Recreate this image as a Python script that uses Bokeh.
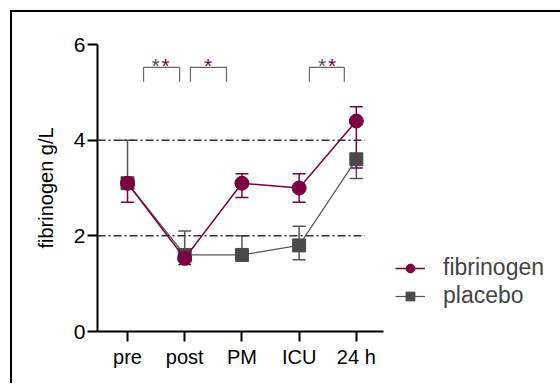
from bokeh.plotting import figure
from bokeh.models import FixedTicker, Whisker, ColumnDataSource, Legend, LegendItem, TeeHead
from bokeh.embed import file_html
from bokeh.resources import INLINE
from bokeh.core.properties import value

# ---- data ----
categories = ["pre", "post", "PM", "ICU", "24 h"]
fib_mean = [3.1, 1.53, 3.1, 3.0, 4.4]
fib_lower = [2.7, 1.4, 2.8, 2.7, 3.42]
fib_upper = [3.1, 1.53, 3.3, 3.3, 4.7]
pla_mean = [3.1, 1.6, 1.6, 1.8, 3.6]
pla_lower = [3.1, 1.6, 1.6, 1.5, 3.2]
pla_upper = [4.0, 2.1, 2.0, 2.2, 3.6]
ref_levels = [2, 4]
# significance annotations (category index units)
sig_left = [1.28, 2.10, 4.18]
sig_right = [1.91, 2.73, 4.79]
sig_center = [1.58, 2.41, 4.49]
sig_labels = ["**", "*", "**"]

MAROON = "#7a0040"
GRAY = "#4a4a4a"
FONT = "Liberation Sans"

xs = list(range(1, len(categories) + 1))

p = figure(frame_width=286, frame_height=287, x_range=(0.475, 5.475), y_range=(0, 6),
           output_backend="svg", toolbar_location=None,
           min_border_left=85, min_border_right=160, min_border_top=32, min_border_bottom=52)
p.styles = {"border-left": "2px solid black", "border-top": "2px solid black",
            "margin-left": "10px", "margin-top": "10px"}
p.xgrid.visible = False
p.ygrid.visible = False
p.outline_line_color = None
p.background_fill_color = "white"
p.border_fill_color = "white"

for ax in (p.xaxis[0], p.yaxis[0]):
    ax.axis_line_width = 2
    ax.axis_line_color = "black"
    ax.major_tick_line_width = 2
    ax.major_tick_line_color = "black"
    ax.major_tick_in = 0
    ax.major_tick_out = 10
    ax.minor_tick_out = 0
    ax.minor_tick_in = 0
    ax.major_label_text_font = FONT
    ax.major_label_text_color = "black"

p.xaxis.ticker = FixedTicker(ticks=xs)
p.xaxis.major_label_overrides = {x: c for x, c in zip(xs, categories)}
p.xaxis.major_label_text_font_size = "20px"
p.xaxis.major_label_standoff = 4
p.yaxis.ticker = FixedTicker(ticks=[0, 2, 4, 6])
p.yaxis.major_label_text_font_size = "21px"
p.yaxis.major_label_standoff = 2
p.yaxis.axis_label = "fibrinogen g/L"
p.yaxis.axis_label_text_font = FONT
p.yaxis.axis_label_text_font_style = "normal"
p.yaxis.axis_label_text_font_size = "20px"
p.yaxis.axis_label_text_color = "black"
p.yaxis.axis_label_standoff = 14

# reference lines
p.segment(x0=[0.475] * len(ref_levels), x1=[5.15] * len(ref_levels), y0=ref_levels, y1=ref_levels,
          line_color="#333333", line_width=1.5, line_dash="8 3 2 3")

# significance brackets
b_top = 5.52
b_bot = 5.22
for l, r in zip(sig_left, sig_right):
    p.line(x=[l, l, r, r], y=[b_bot, b_top, b_top, b_bot], line_color="#666666", line_width=1.2)
star_y = 5.62
dbl = [c for c, lab in zip(sig_center, sig_labels) if lab == "**"]
sgl = [c for c, lab in zip(sig_center, sig_labels) if lab == "*"]
p.text(x=dbl, y=[star_y] * len(dbl), text=["*"] * len(dbl), text_font=value(FONT), text_font_size="21px",
       text_color="#555555", text_align="center", text_baseline="middle", x_offset=-5, y_offset=3)
p.text(x=dbl, y=[star_y] * len(dbl), text=["*"] * len(dbl), text_font=value(FONT), text_font_size="21px",
       text_color=MAROON, text_align="center", text_baseline="middle", x_offset=5, y_offset=3)
p.text(x=sgl, y=[star_y] * len(sgl), text=["*"] * len(sgl), text_font=value(FONT), text_font_size="21px",
       text_color=MAROON, text_align="center", text_baseline="middle", y_offset=3)

# error bars
pla_src = ColumnDataSource(dict(x=xs, y=pla_mean, lower=pla_lower, upper=pla_upper))
fib_src = ColumnDataSource(dict(x=xs, y=fib_mean, lower=fib_lower, upper=fib_upper))
for src, col in ((pla_src, "#555555"), (fib_src, MAROON)):
    w = Whisker(base="x", lower="lower", upper="upper", source=src, line_color=col, line_width=1.5,
                upper_head=TeeHead(size=13, line_color=col, line_width=1.5),
                lower_head=TeeHead(size=13, line_color=col, line_width=1.5))
    p.add_layout(w)

pl = p.line("x", "y", source=pla_src, line_color="#555555", line_width=1.2)
ps = p.scatter("x", "y", source=pla_src, marker="square", size=13, fill_color=GRAY, line_color=GRAY)
fl = p.line("x", "y", source=fib_src, line_color=MAROON, line_width=1.5)
fs = p.scatter("x", "y", source=fib_src, marker="circle", size=14, fill_color=MAROON, line_color=MAROON)

legend = Legend(items=[LegendItem(label="fibrinogen", renderers=[fl, fs]),
                       LegendItem(label="placebo", renderers=[pl, ps])],
                location=(12, 22), border_line_color=None, background_fill_alpha=0,
                label_text_font=FONT, label_text_font_size="23px", glyph_width=30,
                glyph_height=22, label_height=22, spacing=1, label_standoff=18,
                padding=0, margin=0)
p.add_layout(legend, "right")

open("out.html", "w").write(file_html(p, INLINE))
